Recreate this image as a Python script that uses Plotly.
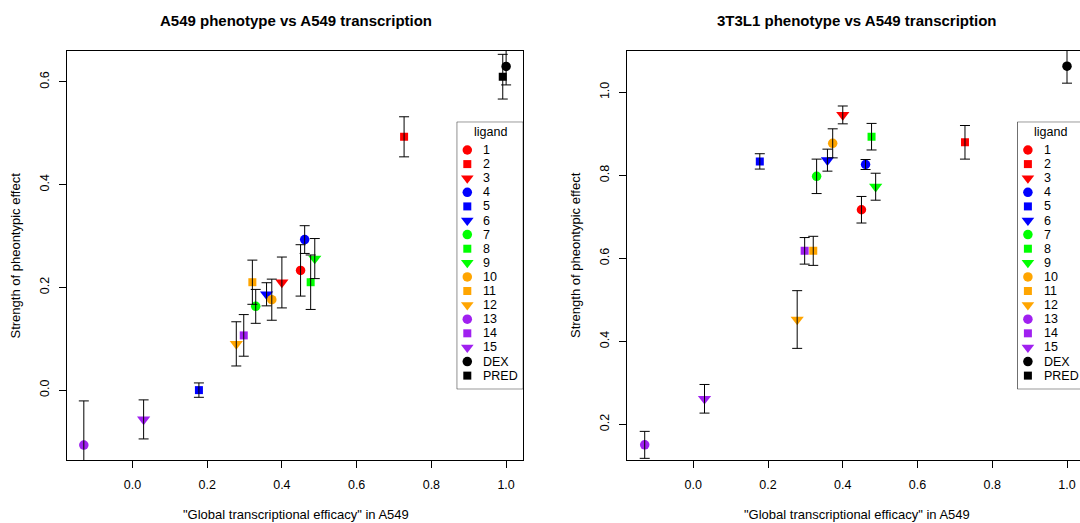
import plotly.graph_objects as go

# ---------------- data ----------------
ligands = ["1", "2", "3", "4", "5", "6", "7", "8", "9", "10", "11", "12", "13", "14", "15", "DEX", "PRED"]
colors = ["#FF0000", "#FF0000", "#FF0000",
          "#0000FF", "#0000FF", "#0000FF",
          "#00FF00", "#00FF00", "#00FF00",
          "#FFA500", "#FFA500", "#FFA500",
          "#A020F0", "#A020F0", "#A020F0",
          "#000000", "#000000"]
symbols = ["circle", "square", "triangle-down"] * 5 + ["circle", "square"]

# "Global transcriptional efficacy" in A549
x_a549 = [0.450, 0.727, 0.400, 0.461, 0.178, 0.359, 0.330, 0.477, 0.488,
          0.373, 0.321, 0.278, -0.130, 0.298, 0.030, 1.000, 0.991]
# A549 phenotype
y_a549 = [0.233, 0.493, 0.2095, 0.293, 0.000, 0.1865, 0.163, 0.210, 0.256,
          0.176, 0.210, 0.090, -0.107, 0.1065, -0.057, 0.630, 0.610]
se_a549 = [0.050, 0.039, 0.0495, 0.027, 0.014, 0.0225, 0.033, 0.053, 0.039,
           0.040, 0.043, 0.043, 0.086, 0.0405, 0.038, 0.036, 0.0435]
# 3T3L1 phenotype (PRED not measured)
y_3t3 = [0.717, 0.8795, 0.9455, 0.826, 0.8335, 0.8365, 0.7975, 0.893, 0.7725,
         0.877, 0.618, 0.4525, 0.1505, 0.618, 0.2615, 1.063, None]
se_3t3 = [0.032, 0.0405, 0.0215, 0.012, 0.0185, 0.0265, 0.0415, 0.032, 0.0325,
          0.035, 0.035, 0.0695, 0.0325, 0.032, 0.0345, 0.041, None]

x_ticks = [0.0, 0.2, 0.4, 0.6, 0.8, 1.0]
y_ticks_left = [0.0, 0.2, 0.4, 0.6]
y_ticks_right = [0.2, 0.4, 0.6, 0.8, 1.0]

titles = ["A549 phenotype vs A549 transcription", "3T3L1 phenotype vs A549 transcription"]
x_title = '"Global transcriptional efficacy" in A549'
y_title = "Strength of pheontypic effect"

# ---------------- style ----------------
FONT = "Liberation Sans, Arial, sans-serif"
size_map = {"circle": 9.5, "square": 8, "triangle-down": 11.5}
sizes = [size_map[s] for s in symbols]
leg_sizes = [{"circle": 9.5, "square": 8, "triangle-down": 11}[s] for s in symbols]

fig = go.Figure()

panels = [("x", "y", y_a549, se_a549), ("x2", "y2", y_3t3, se_3t3)]
for xa, ya, yv, se in panels:
    fig.add_trace(go.Scatter(
        x=x_a549, y=yv, xaxis=xa, yaxis=ya, mode="markers",
        marker=dict(color=colors, symbol=symbols, size=sizes, opacity=1, line=dict(width=0)),
        text=ligands, hoverinfo="text+x+y", showlegend=False))
for xa, ya, yv, se in panels:
    fig.add_trace(go.Scatter(
        x=x_a549, y=yv, xaxis=xa, yaxis=ya, mode="markers",
        marker=dict(opacity=0, size=1),
        error_y=dict(type="data", array=se, symmetric=True, color="#000000",
                     thickness=1, width=5),
        hoverinfo="skip", showlegend=False))

# legend symbols on dedicated hidden axes (pixel units, item index units)
leg_idx = list(range(len(ligands)))
for xa, ya in [("x3", "y3"), ("x4", "y4")]:
    fig.add_trace(go.Scatter(
        x=[10.6] * len(ligands), y=leg_idx, xaxis=xa, yaxis=ya, mode="markers",
        marker=dict(color=colors, symbol=symbols, size=leg_sizes, opacity=1, line=dict(width=0)),
        hoverinfo="skip", showlegend=False, cliponaxis=False))

W, H = 1080, 523
ML, MR, MT, MB = 67, 0, 51, 63
PW = W - ML - MR
PH = H - MT - MB


def px_x(px):
    return (px - ML) / PW


def px_y(py):
    return (H - MB - py) / PH


axis_common = dict(showgrid=False, zeroline=False, showline=True, mirror=True,
                   linecolor="#000000", linewidth=1, ticks="outside", ticklen=7,
                   tickcolor="#000000", tickwidth=1,
                   tickfont=dict(family=FONT, size=12.5, color="#000000"))

left_dom = [0.0, px_x(523.3)]
right_dom = [px_x(627.3), 1.0]

fig.update_layout(
    width=W, height=H, margin=dict(l=ML, r=MR, t=MT, b=MB),
    paper_bgcolor="#FFFFFF", plot_bgcolor="rgba(0,0,0,0)",
    font=dict(family=FONT, size=12, color="#000000"),
    showlegend=False,
    xaxis=dict(domain=left_dom, anchor="y", range=[-0.175, 1.046],
               tickvals=x_ticks, tickformat=".1f", ticklabelstandoff=6, **axis_common),
    yaxis=dict(domain=[0, 1], anchor="x", range=[-0.136, 0.660],
               tickvals=y_ticks_left, tickformat=".1f", tickangle=-90,
               ticklabelstandoff=5, **axis_common),
    xaxis2=dict(domain=right_dom, anchor="y2", range=[-0.1766, 1.0348],
                tickvals=x_ticks, tickformat=".1f", ticklabelstandoff=6, **axis_common),
    yaxis2=dict(domain=[0, 1], anchor="x2", range=[0.114, 1.0995],
                tickvals=y_ticks_right, tickformat=".1f", tickangle=-90,
                ticklabelstandoff=5, **axis_common),
    xaxis3=dict(domain=[px_x(456.7), px_x(523.3)], anchor="y3", range=[0, 66.6],
                visible=False, fixedrange=True),
    yaxis3=dict(domain=[px_y(389.3), px_y(121.7)], anchor="x3", range=[16.97, -2.007],
                visible=False, fixedrange=True),
    xaxis4=dict(domain=[px_x(1017.3), 1.0], anchor="y4", range=[0, 1080 - 1017.3],
                visible=False, fixedrange=True),
    yaxis4=dict(domain=[px_y(389.3), px_y(121.7)], anchor="x4", range=[16.97, -2.007],
                visible=False, fixedrange=True),
)

# legend boxes
for xa, ya in [("x3", "y3"), ("x4", "y4")]:
    fig.add_shape(type="rect", xref=xa, yref=ya, x0=0, x1=66.6, y0=-2.007, y1=16.97,
                  line=dict(color="#000000", width=1), fillcolor="rgba(0,0,0,0)",
                  layer="above")

ann = []
for xa, ya in [("x3", "y3"), ("x4", "y4")]:
    ann.append(dict(xref=xa, yref=ya, x=33.3, y=-1.30, text="ligand", showarrow=False,
                    xanchor="center", yanchor="middle",
                    font=dict(family=FONT, size=12.5, color="#000000")))
    for i, lab in enumerate(ligands):
        ann.append(dict(xref=xa, yref=ya, x=24.5, y=i, text=lab, showarrow=False,
                        xanchor="left", yanchor="middle",
                        font=dict(family=FONT, size=12.5, color="#000000")))

# titles and axis titles
for cx, yt in [(295.5, titles[0]), (857.0, titles[1])]:
    ann.append(dict(xref="paper", yref="paper", x=px_x(cx), y=px_y(20.5), text="<b>%s</b>" % yt,
                    showarrow=False, xanchor="center", yanchor="middle",
                    font=dict(family=FONT, size=15, color="#000000")))
    ann.append(dict(xref="paper", yref="paper", x=px_x(cx), y=px_y(514), text=x_title,
                    showarrow=False, xanchor="center", yanchor="middle",
                    font=dict(family=FONT, size=13, color="#000000")))
for cx in [15, 575.5]:
    ann.append(dict(xref="paper", yref="paper", x=px_x(cx), y=px_y(255.5), text=y_title,
                    showarrow=False, xanchor="center", yanchor="middle", textangle=-90,
                    font=dict(family=FONT, size=13, color="#000000")))
fig.update_layout(annotations=ann)

fig.write_html("out.html")
